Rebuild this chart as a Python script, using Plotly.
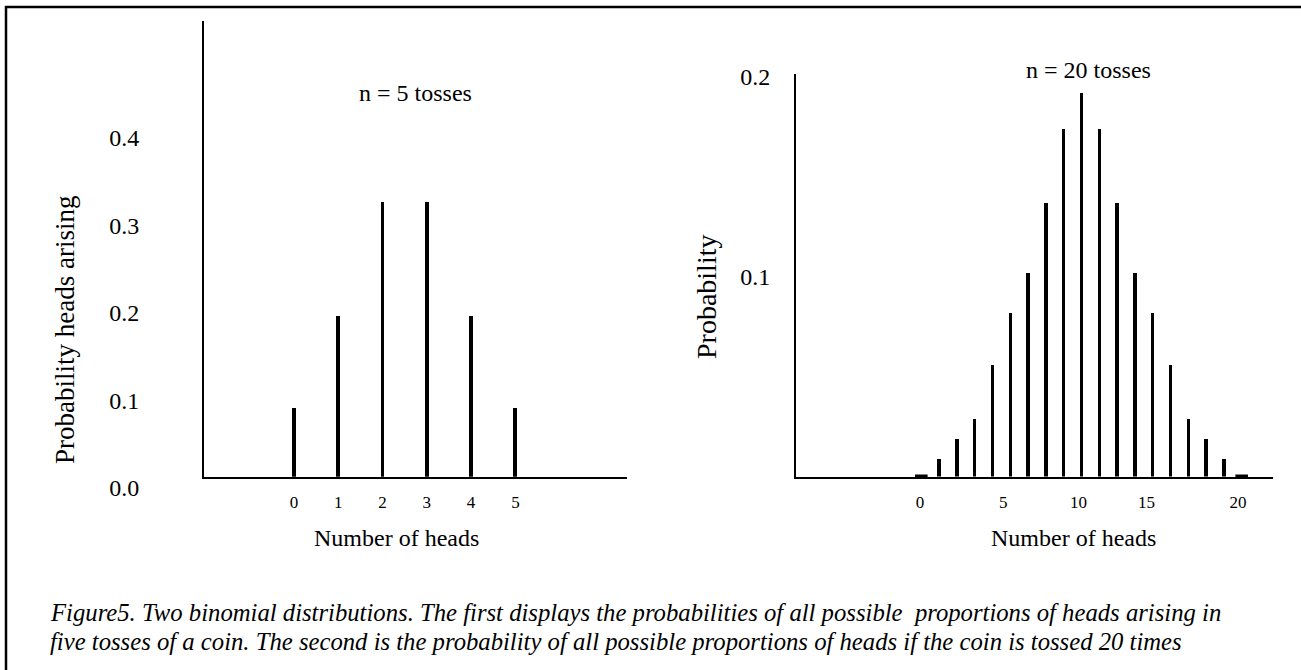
import plotly.graph_objects as go

# ---------------- data ----------------
heads_5 = [0, 1, 2, 3, 4, 5]
prob_5 = [0.079, 0.184, 0.314, 0.314, 0.184, 0.079]

heads_20 = list(range(1, 20))
prob_20 = [0.0, 0.009, 0.019, 0.029, 0.056, 0.082, 0.102, 0.137, 0.174, 0.192,
           0.174, 0.137, 0.102, 0.082, 0.056, 0.029, 0.019, 0.009, 0.0]

y_ticks_5 = [0.0, 0.1, 0.2, 0.3, 0.4]
y_ticks_20 = [0.1, 0.2]
x_ticktext_20 = ["0", "5", "10", "15", "20"]

title_5 = "n = 5 tosses"
title_20 = "n = 20 tosses"
xlabel = "Number of heads"
ylabel_5 = "Probability heads arising"
ylabel_20 = "Probability"
caption_1 = ("Figure5. Two binomial distributions. The first displays the probabilities "
             "of all possible  proportions of heads arising in")
caption_2 = ("five tosses of a coin. The second is the probability of all possible "
             "proportions of heads if the coin is tossed 20 times")

# ---------------- layout helpers ----------------
W, H = 1301, 670
def px(x):
    return x / W
def py(y):
    return 1 - y / H

FONT = "Liberation Serif, Times New Roman, serif"

fig = go.Figure()

fig.add_trace(go.Bar(x=heads_5, y=prob_5, width=0.09, marker=dict(color="black", line=dict(width=0)),
                     xaxis="x", yaxis="y", showlegend=False, hoverinfo="x+y"))
fig.add_trace(go.Bar(x=heads_20, y=prob_20, width=0.19, marker=dict(color="black", line=dict(width=0)),
                     xaxis="x2", yaxis="y2", showlegend=False, hoverinfo="x+y"))
zero_k = [k for k, p in zip(heads_20, prob_20) if p == 0]
fig.add_trace(go.Scatter(x=zero_k, y=[0] * len(zero_k), mode="markers",
                         marker=dict(symbol="line-ew", size=9, line=dict(width=4, color="black")),
                         xaxis="x2", yaxis="y2", showlegend=False, cliponaxis=False))

# tick label positions on the 20-toss axis, as drawn in the figure
x_tickpos_20 = [0.93, 5.6, 9.83, 13.65, 18.8]

axis_common = dict(showgrid=False, zeroline=False, showline=True, linecolor="black",
                   linewidth=2, ticks="", fixedrange=True, automargin=False)

fig.update_layout(
    width=W, height=H, autosize=False,
    margin=dict(l=0, r=0, t=0, b=0, pad=0),
    paper_bgcolor="white", plot_bgcolor="white",
    bargap=0,
    font=dict(family=FONT, color="black"),
    xaxis=dict(domain=[px(204), px(627)], range=[-2.03, 7.52], anchor="y",
               tickmode="array", tickvals=heads_5, ticktext=[str(h) for h in heads_5],
               tickfont=dict(size=17, family=FONT), ticklabelstandoff=9, **axis_common),
    yaxis=dict(domain=[py(476.7), py(20.7)], range=[0, 0.521], anchor="x",
               tickmode="array", tickvals=y_ticks_5, ticktext=[f"{v:.1f}" for v in y_ticks_5],
               tickfont=dict(size=24, family=FONT), ticklabelstandoff=58, ticklabelshift=11,
               **axis_common),
    xaxis2=dict(domain=[px(796), px(1273)], range=[-6.04, 20.76], anchor="y2",
                tickmode="array", tickvals=x_tickpos_20, ticktext=x_ticktext_20,
                tickfont=dict(size=17, family=FONT), ticklabelstandoff=9, **axis_common),
    yaxis2=dict(domain=[py(476.5), py(74)], range=[0, 0.2013], anchor="x2",
                tickmode="array", tickvals=y_ticks_20, ticktext=[f"{v:.1f}" for v in y_ticks_20],
                tickfont=dict(size=24, family=FONT), ticklabelstandoff=19, **axis_common),
)

ann = [
    dict(text=title_5, x=px(415), y=py(93), size=24, italic=False, xanchor="center"),
    dict(text=title_20, x=px(1088), y=py(70), size=24, italic=False, xanchor="center"),
    dict(text=xlabel, x=px(396), y=py(538), size=24, italic=False, xanchor="center"),
    dict(text=xlabel, x=px(1073), y=py(538), size=24, italic=False, xanchor="center"),
    dict(text=caption_1, x=px(48), y=py(612), size=24.7, italic=True, xanchor="left"),
    dict(text=caption_2, x=px(48), y=py(641), size=24.7, italic=True, xanchor="left"),
]
for a in ann:
    t = f"<i>{a['text']}</i>" if a["italic"] else a["text"]
    fig.add_annotation(text=t, x=a["x"], y=a["y"], xref="paper", yref="paper",
                       xanchor=a["xanchor"], yanchor="middle", showarrow=False,
                       font=dict(size=a["size"], family=FONT, color="black"))

fig.add_annotation(text=ylabel_5, x=px(65), y=py(330), xref="paper", yref="paper",
                   textangle=-90, showarrow=False, xanchor="center", yanchor="middle",
                   font=dict(size=27, family=FONT, color="black"))
fig.add_annotation(text=ylabel_20, x=px(706), y=py(297), xref="paper", yref="paper",
                   textangle=-90, showarrow=False, xanchor="center", yanchor="middle",
                   font=dict(size=28, family=FONT, color="black"))

# outer frame (top and left edges visible)
fig.add_shape(type="line", xref="paper", yref="paper", x0=px(5), x1=px(1301), y0=py(7), y1=py(7),
              line=dict(color="black", width=2.5))
fig.add_shape(type="line", xref="paper", yref="paper", x0=px(6), x1=px(6), y0=py(6), y1=py(670),
              line=dict(color="black", width=2.5))

fig.write_html("out.html", config={"displayModeBar": False},
               post_script="document.body.style.margin='0';document.body.style.overflow='hidden';")
